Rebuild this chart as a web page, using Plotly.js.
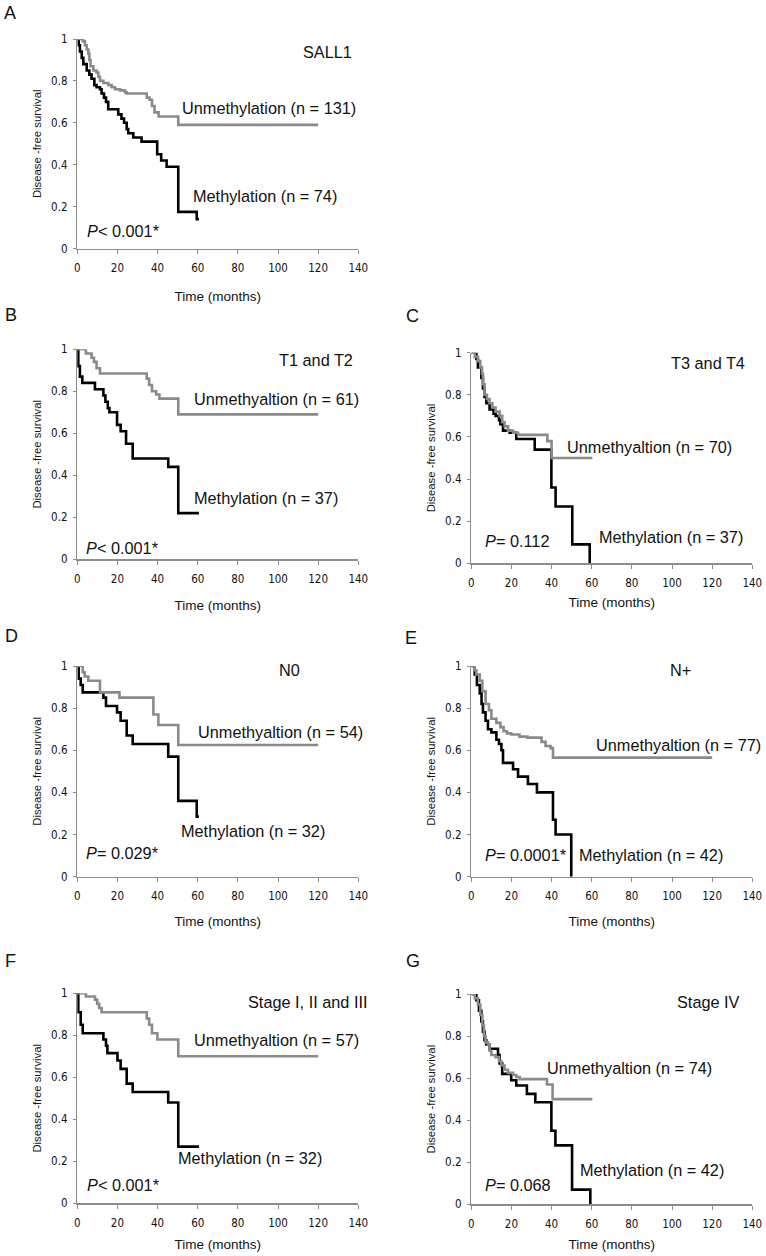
<!DOCTYPE html>
<html>
<head>
<meta charset="utf-8">
<script src="https://cdn.plot.ly/plotly-3.0.1.min.js"></script>
<style>html,body{margin:0;padding:0;background:#fff;}#chart{width:766px;height:1256px;}</style>
</head>
<body>
<div id="chart"></div>
<script>
// ---------------- DATA ----------------
const panelLetters = ["A", "B", "C", "D", "E", "F", "G"];
const panelTitles = ["SALL1", "T1 and T2", "T3 and T4", "N0", "N+", "Stage I, II and III", "Stage IV"];
const unmethLabels = ["Unmethylation (n = 131)", "Unmethyaltion (n = 61)", "Unmethyaltion (n = 70)", "Unmethyaltion (n = 54)", "Unmethyaltion (n = 77)", "Unmethyaltion (n = 57)", "Unmethyaltion (n = 74)"];
const methLabels = ["Methylation (n = 74)", "Methylation (n = 37)", "Methylation (n = 37)", "Methylation (n = 32)", "Methylation (n = 42)", "Methylation (n = 32)", "Methylation (n = 42)"];
const pLabels = ["<i>P</i>&lt; 0.001*", "<i>P</i>&lt; 0.001*", "<i>P</i>= 0.112", "<i>P</i>= 0.029*", "<i>P</i>= 0.0001*", "<i>P</i>&lt; 0.001*", "<i>P</i>= 0.068"];
const xTickVals = [0, 20, 40, 60, 80, 100, 120, 140];
const yTickVals = [0, 0.2, 0.4, 0.6, 0.8, 1];
const xTitle = "Time (months)";
const yTitle = "Disease -free survival";

// A: SALL1
const aUnmethT = [0, 2.7, 3.8, 4.7, 5.5, 6, 6.6, 8, 9.6, 10.5, 11.3, 13, 15.5, 17.1, 18.8, 21.3, 23.8, 24.6, 34.6, 36, 37.2, 38.5, 40.5, 50.3, 120];
const aUnmethS = [1, 0.99, 0.97, 0.95, 0.93, 0.90, 0.87, 0.85, 0.84, 0.82, 0.80, 0.79, 0.78, 0.77, 0.76, 0.755, 0.745, 0.74, 0.72, 0.71, 0.68, 0.65, 0.63, 0.59, 0.59];
const aMethT = [0, 0.7, 1.3, 2.2, 3, 4.7, 6, 7.1, 8.5, 9.6, 11.3, 12.1, 13.3, 14.3, 15.4, 20.4, 22, 23.3, 24.6, 25.4, 27.9, 32, 39.8, 41.8, 44.5, 50.3, 59.5, 60.6];
const aMethS = [1, 0.97, 0.94, 0.91, 0.88, 0.85, 0.83, 0.81, 0.78, 0.77, 0.76, 0.74, 0.72, 0.70, 0.665, 0.64, 0.62, 0.60, 0.57, 0.55, 0.53, 0.51, 0.45, 0.42, 0.39, 0.175, 0.14, 0.14];

// B: T1 and T2
const bUnmethT = [0, 4.3, 7.1, 8.3, 9.6, 11.3, 34.6, 35.8, 37.2, 39.3, 40.9, 50.3, 120];
const bUnmethS = [1, 0.98, 0.96, 0.94, 0.91, 0.885, 0.86, 0.83, 0.80, 0.785, 0.765, 0.69, 0.69];
const bMethT = [0, 0.5, 1.3, 2.5, 8.8, 13, 14, 15.2, 16, 19.8, 21.6, 24.3, 27.6, 45.3, 50.3, 60.6];
const bMethS = [1, 0.92, 0.87, 0.84, 0.81, 0.78, 0.75, 0.72, 0.70, 0.64, 0.61, 0.55, 0.48, 0.44, 0.22, 0.22];

// C: T3 and T4
const cUnmethT = [0, 1.7, 3.3, 4.5, 5.3, 5.8, 6.6, 7.8, 9.1, 10.5, 12.1, 14.1, 15.4, 16.6, 18.3, 20.8, 23.3, 37.9, 40, 60.3];
const cUnmethS = [1, 0.98, 0.96, 0.93, 0.90, 0.85, 0.80, 0.78, 0.76, 0.74, 0.72, 0.70, 0.67, 0.65, 0.63, 0.62, 0.61, 0.58, 0.50, 0.50];
const cMethT = [0, 2.5, 3.3, 5, 5.8, 6.6, 7.5, 9.1, 11.1, 12.1, 13.8, 14.5, 15.8, 19.1, 22.4, 31.6, 39.9, 42, 50.3, 59, 59];
const cMethS = [1, 0.97, 0.93, 0.88, 0.83, 0.79, 0.76, 0.73, 0.71, 0.70, 0.68, 0.66, 0.63, 0.62, 0.59, 0.54, 0.36, 0.27, 0.09, 0, 0];

// D: N0
const dUnmethT = [0, 2.7, 3.7, 5.5, 11.3, 21, 37.9, 40.4, 50.3, 120];
const dUnmethS = [1, 0.97, 0.95, 0.93, 0.875, 0.85, 0.77, 0.72, 0.625, 0.625];
const dMethT = [0, 0.7, 1.7, 2.7, 13, 14.3, 19.8, 21.6, 24.6, 27.6, 45.3, 50.3, 59.5, 60.6];
const dMethS = [1, 0.94, 0.91, 0.875, 0.85, 0.81, 0.78, 0.74, 0.67, 0.63, 0.57, 0.36, 0.285, 0.285];

// E: N+
const eUnmethT = [0, 1.7, 2.5, 4.2, 5.5, 7.1, 8.8, 10, 12.5, 14.5, 16.1, 17.8, 19.9, 24, 28, 35, 37, 39.5, 40.7, 120];
const eUnmethS = [1, 0.98, 0.96, 0.93, 0.88, 0.82, 0.79, 0.75, 0.73, 0.71, 0.69, 0.68, 0.675, 0.665, 0.66, 0.64, 0.62, 0.61, 0.565, 0.565];
const eMethT = [0, 1.7, 2.8, 4.2, 5.1, 5.8, 7.1, 8.3, 10, 12.5, 13.8, 15, 15.8, 20.8, 23.3, 28.2, 32.7, 40.7, 42, 49.8, 49.8];
const eMethS = [1, 0.96, 0.91, 0.87, 0.82, 0.78, 0.74, 0.70, 0.685, 0.65, 0.63, 0.60, 0.54, 0.51, 0.475, 0.44, 0.40, 0.27, 0.20, 0, 0];

// F: Stage I, II and III
const fUnmethT = [0, 4.3, 8.8, 9.9, 10.9, 12.1, 34.6, 35.8, 37.2, 39.9, 50.3, 120];
const fUnmethS = [1, 0.985, 0.97, 0.95, 0.93, 0.91, 0.88, 0.85, 0.81, 0.78, 0.70, 0.70];
const fMethT = [0, 0.5, 1.7, 2.7, 13, 14.3, 15, 20, 21.6, 24.6, 27.6, 45.3, 50.3, 60.6];
const fMethS = [1, 0.91, 0.85, 0.81, 0.78, 0.75, 0.715, 0.68, 0.64, 0.57, 0.53, 0.48, 0.27, 0.27];

// G: Stage IV
const gUnmethT = [0, 1.7, 3.3, 4.5, 5.5, 6.3, 7.1, 8.3, 9.1, 10, 12.1, 13.8, 15, 16.6, 18.3, 20.8, 22.4, 24.1, 37.7, 40.5, 60.3];
const gUnmethS = [1, 0.98, 0.95, 0.90, 0.85, 0.80, 0.77, 0.76, 0.73, 0.71, 0.70, 0.68, 0.66, 0.64, 0.625, 0.615, 0.605, 0.595, 0.57, 0.50, 0.50];
const gMethT = [0, 2.5, 3.8, 5, 5.8, 6.6, 7.5, 9.1, 13.3, 14.1, 15.4, 19.9, 22.4, 27.7, 31.9, 39.9, 41.9, 50.2, 59.3, 59.3];
const gMethS = [1, 0.97, 0.92, 0.87, 0.82, 0.78, 0.76, 0.74, 0.71, 0.67, 0.62, 0.59, 0.565, 0.525, 0.485, 0.35, 0.28, 0.07, 0, 0];

const unmethTimes = [aUnmethT, bUnmethT, cUnmethT, dUnmethT, eUnmethT, fUnmethT, gUnmethT];
const unmethSurv = [aUnmethS, bUnmethS, cUnmethS, dUnmethS, eUnmethS, fUnmethS, gUnmethS];
const methTimes = [aMethT, bMethT, cMethT, dMethT, eMethT, fMethT, gMethT];
const methSurv = [aMethS, bMethS, cMethS, dMethS, eMethS, fMethS, gMethS];

// ---------------- LAYOUT (pixel geometry of the figure) ----------------
const W = 766, H = 1256;
const fx = p => p / W;
const fy = p => 1 - p / H;
// plot boxes: [left, right, top, bottom] in px
const boxes = [
  [77.3, 358.3, 39, 248.5],
  [77.3, 358.3, 349.3, 559.3],
  [471.3, 752.3, 352.7, 563.3],
  [77.3, 358.3, 666, 876.7],
  [471.3, 752.3, 666, 876.7],
  [77.3, 358.3, 993.3, 1203.3],
  [471.3, 752.3, 994, 1204.3]
];
const xTitleStandoff = [18, 16, 9, 14, 14, 11, 10];
// label anchor positions in px: letter center, title (left,y), unmeth (left,y), meth (left,y), p (left,y)
const letterPos = [[10, 13], [11, 315], [412, 315.5], [11, 636], [411, 637.5], [10, 961], [413, 961]];
const titlePos = [[302, 52], [278, 360], [670, 363], [278, 670], [669, 670], [247, 1002], [676, 1002]];
const unmethPos = [[181, 108], [193, 399], [566, 447], [197, 732], [595, 745], [193, 1040], [546, 1068]];
const methPos = [[192, 196], [193, 498], [598, 537], [180, 831], [578, 855], [177, 1158], [579, 1170]];
const pPos = [[86, 231], [85, 548], [484, 541], [85, 853], [484, 855], [86, 1185], [484, 1185]];

const GRAY = "#8a8a8a";
const AXIS = "#8c8c8c";
const narrow = "'Liberation Sans Narrow', 'DejaVu Sans Condensed', 'Arial Narrow', sans-serif";
const sans = "'Liberation Sans', Arial, Helvetica, sans-serif";

const traces = [];
const layout = {
  width: W, height: H,
  margin: {l: 0, r: 0, t: 0, b: 0},
  paper_bgcolor: "#fff", plot_bgcolor: "rgba(0,0,0,0)",
  showlegend: false,
  annotations: []
};

for (let i = 0; i < 7; i++) {
  const s = i === 0 ? "" : String(i + 1);
  const b = boxes[i];
  traces.push({
    x: methTimes[i], y: methSurv[i], xaxis: "x" + s, yaxis: "y" + s,
    type: "scatter", mode: "lines", line: {shape: "hv", color: "#000", width: 2.6},
    name: methLabels[i], hoverinfo: "skip"
  });
  traces.push({
    x: unmethTimes[i], y: unmethSurv[i], xaxis: "x" + s, yaxis: "y" + s,
    type: "scatter", mode: "lines", line: {shape: "hv", color: GRAY, width: 2.6},
    name: unmethLabels[i], hoverinfo: "skip"
  });
  layout["xaxis" + s] = {
    domain: [fx(b[0]), fx(b[1])], anchor: "y" + s, range: [0, 140],
    tickvals: xTickVals, showline: true, linecolor: AXIS, linewidth: 1.5,
    ticks: "outside", ticklen: 4, tickcolor: AXIS, tickwidth: 1,
    showgrid: false, zeroline: false, fixedrange: true,
    tickfont: {family: narrow, size: 11.5, color: "#111"},
    ticklabelstandoff: 4,
    title: {text: xTitle, font: {family: sans, size: 13.5, color: "#111"}, standoff: xTitleStandoff[i]}
  };
  layout["yaxis" + s] = {
    domain: [fy(b[3]), fy(b[2])], anchor: "x" + s, range: [0, 1],
    tickvals: yTickVals, ticktext: yTickVals.map(v => String(v)),
    showline: true, linecolor: AXIS, linewidth: 1.5,
    ticks: "outside", ticklen: 3, tickcolor: AXIS, tickwidth: 1,
    showgrid: false, zeroline: false, fixedrange: true,
    tickfont: {family: narrow, size: 11.5, color: "#111"},
    ticklabelstandoff: 3,
    title: {text: yTitle, font: {family: sans, size: 11.3, color: "#111"}, standoff: 7}
  };
  const ann = layout.annotations;
  ann.push({xref: "paper", yref: "paper", x: fx(letterPos[i][0]), y: fy(letterPos[i][1]),
    xanchor: "center", yanchor: "middle", showarrow: false, text: panelLetters[i],
    font: {family: sans, size: 18, color: "#111"}});
  const txt = [[titlePos, panelTitles], [unmethPos, unmethLabels], [methPos, methLabels], [pPos, pLabels]];
  for (const [pos, labels] of txt) {
    ann.push({xref: "paper", yref: "paper", x: fx(pos[i][0]), y: fy(pos[i][1]),
      xanchor: "left", yanchor: "middle", showarrow: false, text: labels[i],
      borderpad: 0, font: {family: sans, size: 16.3, color: "#111"}});
  }
}

Plotly.newPlot("chart", traces, layout, {staticPlot: true, displayModeBar: false});
</script>
</body>
</html>
